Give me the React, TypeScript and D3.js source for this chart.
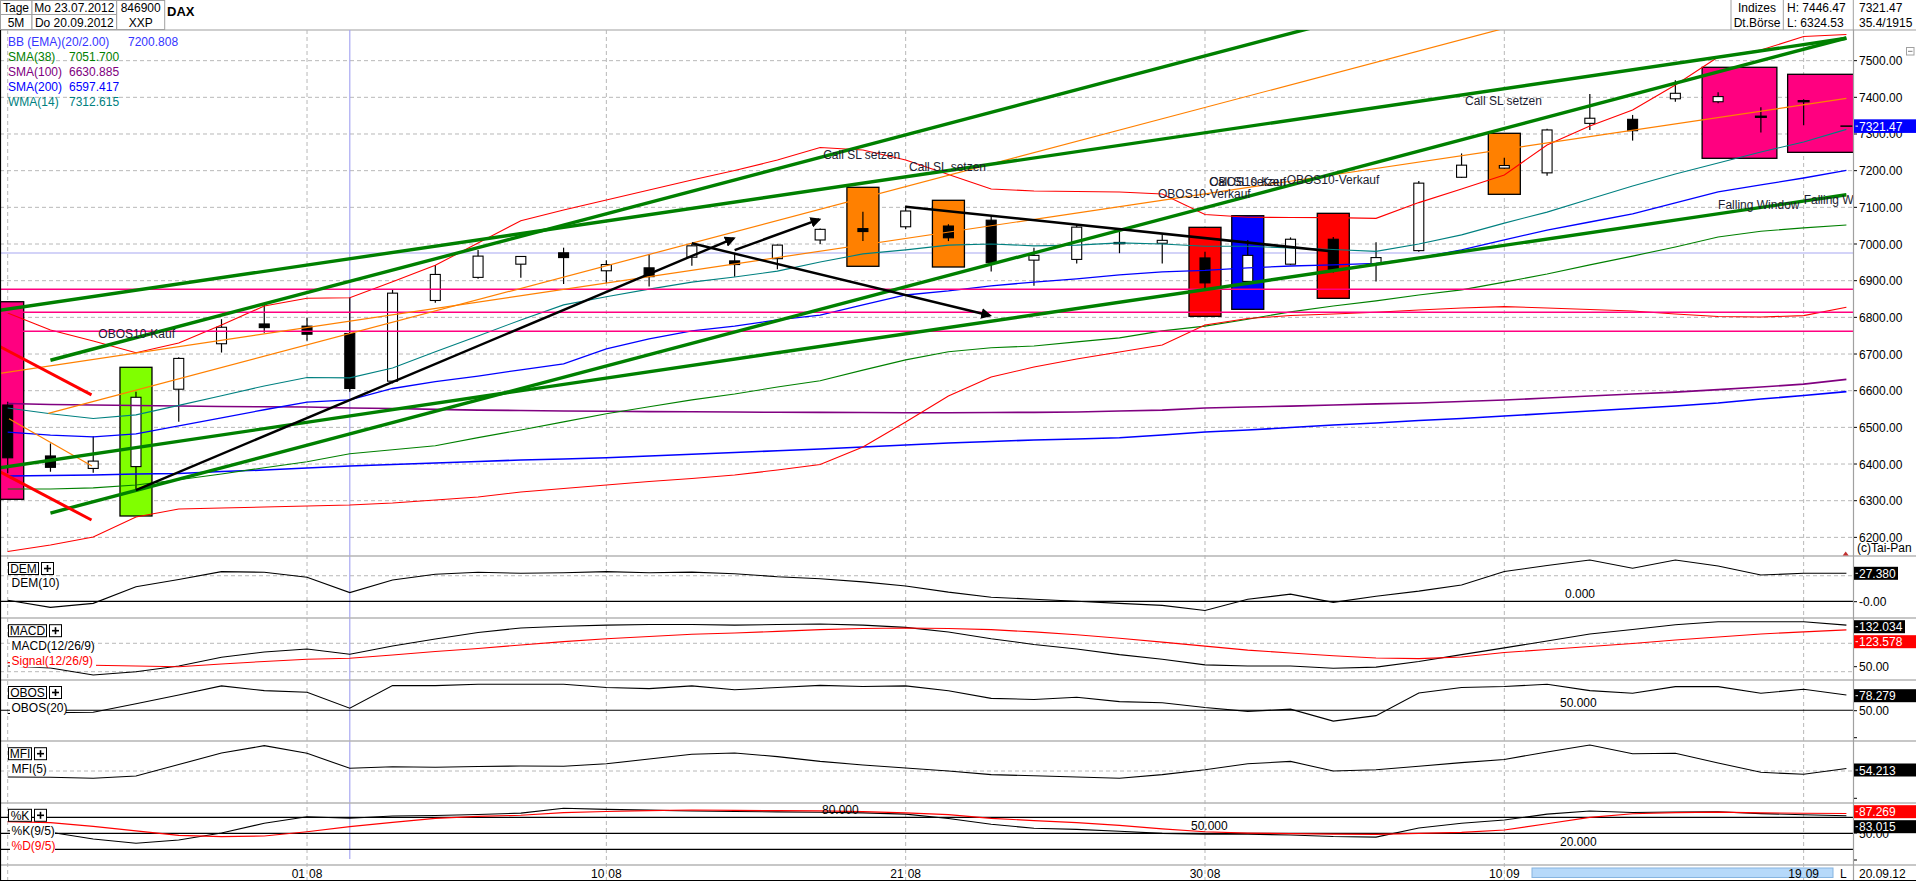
import React from "react";
import * as d3 from "d3";

// ---------------- data ----------------
const dates = ["23.07","24.07","25.07","26.07","27.07","30.07","31.07","01.08","02.08","03.08","06.08","07.08","08.08","09.08","10.08","13.08","14.08","15.08","16.08","17.08","20.08","21.08","22.08","23.08","24.08","27.08","28.08","29.08","30.08","31.08","03.09","04.09","05.09","06.09","07.09","10.09","11.09","12.09","13.09","14.09","17.09","18.09","19.09","20.09"];
const opens = [6561,6422,6388,6393,6604,6728,6782,6776,6756,6626,6846,6909,6945,6976,6927,6935,6964,6954,6960,7011,7042,7047,7049,7065,6956,6958,7003,7002,6962,6898,6945,7013,6945,6982,7182,7207,7194,7329,7340,7396,7388,7348,7390,7321.47];
const highs = [6570,6456,6476,6597,6691,6795,6836,6799,6854,6875,6943,6984,6966,6990,6956,6972,7002,6976,6999,7042,7088,7104,7054,7079,6990,7052,7038,7026,6979,7011,7018,7019,7005,7172,7247,7235,7314,7409,7352,7446.47,7414,7373,7395,7321.47];
const lows = [6375,6379,6376,6324.53,6515,6704,6758,6736,6597,6620,6840,6905,6908,6891,6893,6884,6941,6911,6931,7000,7008,7041,7008,6925,6886,6947,6975,6947,6876,6894,6943,6922,6898,6979,7180,7205,7186,7311,7282,7388,7384,7304,7324,7321.47];
const closes = [6417,6391,6408,6582,6688,6773,6772,6754,6606,6866,6917,6967,6966,6963,6944,6911,6995,6944,6997,7040,7034,7090,7017,6949,6969,7046,7002,7010,6894,6969,7013,6931,6963,7166,7215,7214,7311,7343,7309,7411,7402,7346,7389,7321.47];

const bbUpper = [6811.8,6765.5,6735.5,6703.6,6730,6779,6830.9,6851.9,6853.6,6897.2,6942,7002.7,7063.5,7092.7,7120,7147.3,7174.5,7200.4,7229,7263.2,7256.3,7229,7189.5,7150,7144.5,7143.2,7141.8,7136.4,7080.5,7072.8,7072.3,7072,7070,7112.9,7150,7188.2,7270,7321.8,7365.4,7433.6,7510,7529,7565.8,7571.3];
const bbMiddle = [6487,6479,6474,6482,6504,6526,6548,6569,6575,6606,6625,6640,6657,6673,6714,6741,6763,6776,6793,6806,6834,6861,6872,6886,6896,6905,6916,6924,6928,6935,6940,6943,6947,6962,6984,7011,7038,7060,7082,7112,7142,7161,7180,7200.8];
const bbLower = [6161.5,6179.2,6201,6255.5,6277.3,6280,6282.8,6285.5,6288.2,6293.7,6301.9,6310,6323.6,6333.3,6342.8,6352.3,6360.5,6370,6383.7,6398.7,6446.4,6514.6,6585.5,6637.3,6664.6,6686.4,6705.5,6724.6,6779,6796.8,6805,6809,6813.7,6820,6825.5,6829.3,6825.5,6821.4,6817.3,6809,6802.3,6800.9,6804.7,6827.7];
const sma38 = [6332,6332,6335,6343,6357,6373,6390,6406,6428,6439,6450,6472,6493,6515,6537,6556,6575,6591,6610,6627,6656,6684,6706,6717,6722,6733,6744,6763,6776,6795,6815,6831,6845,6861,6875,6896,6918,6943,6967,6992,7019,7035,7044,7051.7];
const sma100 = [6565,6562.3,6561,6559.6,6558.3,6557,6556,6555.5,6553,6551.4,6549,6547,6546,6544.6,6544,6543,6542.4,6542,6541,6541,6540.5,6540,6540,6540.5,6541,6542,6544.6,6547,6553,6555.5,6558,6561,6564,6566.4,6570.5,6574.6,6580,6585.5,6591,6596,6603,6610,6618,6630.9];
const sma200 = [6367.3,6368.7,6370,6372.8,6374,6379.6,6383.7,6389,6394.6,6398.7,6402.8,6406.9,6411,6413.7,6417,6421.9,6426.5,6431.4,6436.4,6441,6446.4,6451.9,6457.4,6461.4,6465.5,6468.2,6471.8,6479.1,6487.3,6492.8,6499.6,6506.4,6511.9,6518.7,6524.1,6531,6537.8,6544.6,6551.4,6558.2,6566.4,6577.3,6586.9,6597.4];
const wma14 = [6553,6537,6524,6534,6560,6586,6613,6636,6635,6662,6706,6749,6793,6834,6856,6877,6896,6910,6926,6951,6973,6984,6997,7000,6995,6997,7003,7000,6994,6994,6989,6985,6980,7000,7025,7057,7087,7123,7158,7191,7221,7251,7278,7312.6];

const dem10 = [1,-5.9,-2,14.2,21.4,29,28.4,23.5,8.5,20.8,26.4,28.4,27.4,28,29,28,28.5,27,24,22,19,15,9,4,2,0,-2,-4,-9,2,7,-1,5,10,16,29.1,35,40.4,32.3,40.4,34.5,25.7,27.4,27.38];
const macd = [60,56.5,44.2,50,60,75.4,84.7,90,80.6,95.2,107.6,119,127,130,132,133,133,132,133,134,132,128,120,108,98,90,80,72,62,60,60,56,58,68,80,92,104,116.4,124.3,132.6,138,138,138,132.03];
const macdSignal = [66,64,61.3,60,58.8,63.6,68,71.8,73.6,79.4,85.6,90.8,97,103,108,112,116,118,121,124,126,127,126,124,120,115,109,102,95,88,83,78,74,73,76,83.8,89,94.4,99.6,105.8,111,116.4,120,123.58];
const obos20 = [44,45.6,46.3,62,78.3,95,86.2,83.3,53.7,95.5,95.5,98,98,98,92,90,95,88,92,96,94,95,86,72,70,74,66,64,55,48,52,30,40,82,92,94,98,86.2,81.4,93.6,93.6,81.4,88.8,78.28];
const mfi5 = [40,39.5,37.8,41.7,60.8,80,92.2,79.5,54.5,57.2,56.2,57.5,58.3,58,62,70,78,80,74,66,60,55,50,44,42,40,38,44,52,62,66,50,52,58,64,69.2,81.7,93.3,78.7,79.5,63.3,47.8,44.5,54.21];
const stochK = [55,52,39.4,31.3,37.5,50.7,68.9,81.2,78.2,82.6,83.5,85.4,88,97,95,93.5,92,91,90.3,89.5,88.5,86,78,67,59.5,57.5,54,50,48.2,48.2,47,44,43,60,69,75,86,92,89,90,90.5,87,85,83.02];
const stochD = [72,70,63.2,54.7,46.3,43.7,45,53,62.5,70.7,78,82,84,89,91,92.5,93.8,93,92.7,92,90.6,88.5,85,78,74,70,65,58.5,53,50.6,49.4,48.6,48.2,50,52,56.3,68,80,86.8,89,90,88.5,87.7,87.27];

const priceTicks = [6200,6300,6400,6500,6600,6700,6800,6900,7000,7100,7200,7300,7400,7500];
const gridIndex = [0,7,14,21,28,35,42];

// drawn objects: [startIndex, startPrice, endIndex, endPrice]
const greenLines = [[1,6683,32,7635.7],[-0.2,6818.9,43,7561],[1,6266.4,43,7561.8],[-0.2,6389.7,43,7134.2]];
const redLines = [[-0.2,6721.3,1.96,6588.5],[-0.2,6380.3,1.96,6247.3]];
const orangeLines = [[-0.2,6647.1,43,7397],[0.95,6538.3,36,7619],[0.03,6523.6,1.97,6394.6]];
const arrowLines = [[3,6329,16.98,7015.5],[17,6983.6,18.98,7067],[16,7002,22.97,6805]];
const blackLines = [[21,7101.7,31,6979.5]];
const levelLines = [6876.5,6813.7,6761.9];
// boxes: [firstIndex, lastIndex, lowPrice, highPrice]
const pinkBoxes = [[0,0,6303.8,6842.6],[40,41,7233.7,7481.9],[42,43,7250,7462.8]];
const greenBoxes = [[3,3,6258.3,6663.8]];
const orangeBoxes = [[20,20,6939.2,7154.6],[22,22,6937.3,7119.2],[35,35,7135.5,7301.9]];
const redBoxes = [[28,28,6802.8,7045.5],[31,31,6851.9,7083.7]];
const blueBoxes = [[29,29,6821.9,7077.2]];
const annotations = [
  {text:"OBOS10-Kauf", i:2.12, p:6753.8},
  {text:"Call SL setzen", i:19.07, p:7242.7},
  {text:"Call SL setzen", i:21.08, p:7209.2},
  {text:"OBOS10-Verkauf", i:26.9, p:7135.5},
  {text:"OBOS10-Kauf", i:28.1, p:7169.9},
  {text:"Call SL setzen", i:28.1, p:7169.9},
  {text:"OBOS10-Verkauf", i:29.91, p:7174.5},
  {text:"Call SL setzen", i:34.08, p:7390.8},
  {text:"Falling Window", i:40, p:7106.4},
  {text:"Falling Window", i:42, p:7120},
];
const legendNames = ["BB (EMA)(20/2.00)","SMA(38)","SMA(100)","SMA(200)","WMA(14)"];
const legendValues = ["7200.808","7051.700","6630.885","6597.417","7312.615"];
const cursorIndex = 8;
const cursorPrice = 6975.5;

// ---------------- component ----------------
const FONT = "Liberation Sans, Arial, sans-serif";
const R = 1853;

export default function App() {
  const x = d3.scaleLinear().domain([0, 43]).range([7.7, 1846.4]);
  const yP = d3.scaleLinear().domain([6149.2, 7583.6]).range([556, 30]);
  const yDem = d3.scaleLinear().domain([-16.3, 44.3]).range([618, 556]);
  const yMacd = d3.scaleLinear().domain([35.4, 144.5]).range([680, 618]);
  const yObos = d3.scaleLinear().domain([0, 100]).range([737.3, 683.2]);
  const yMfi = d3.scaleLinear().domain([0, 100]).range([801, 741]);
  const yK = d3.scaleLinear().domain([0, 100]).range([860, 806.7]);

  const mk = (s: d3.ScaleLinear<number, number>) =>
    d3.line<number>().x((_, i) => x(i)).y((v) => s(v));
  const pl = mk(yP);

  const seg = (l: number[], k: string, color: string, w: number, arrow = false) => (
    <line key={k} x1={x(l[0])} y1={yP(l[1])} x2={x(l[2])} y2={yP(l[3])} stroke={color}
      strokeWidth={w} markerEnd={arrow ? "url(#ah)" : undefined} />
  );
  const box = (b: number[], k: string, fill: string) => {
    const x0 = x(b[0]) - 16, x1 = x(b[1]) + 16;
    return <rect key={k} x={x0} y={yP(b[3])} width={x1 - x0} height={yP(b[2]) - yP(b[3])}
      fill={fill} stroke="#000" strokeWidth={1.3} />;
  };
  const legendColors = ["#3535ff", "#008000", "#800080", "#0000ff", "#008080"];

  const panelTitle = (label: string, y: number, w: number) => (
    <g>
      <rect x={8.5} y={y} width={w} height={12} fill="#fff" stroke="#000" strokeWidth={1} />
      <text x={8.5 + w / 2} y={y + 6.5} textAnchor="middle" dominantBaseline="central">{label}</text>
      <rect x={8.5 + w + 3} y={y} width={12} height={12} fill="#fff" stroke="#000" strokeWidth={1} />
      <line x1={8.5 + w + 5.5} x2={8.5 + w + 12.5} y1={y + 6} y2={y + 6} stroke="#000" strokeWidth={1.6} />
      <line x1={8.5 + w + 9} x2={8.5 + w + 9} y1={y + 2.5} y2={y + 9.5} stroke="#000" strokeWidth={1.6} />
    </g>
  );
  const subLabel = (t: string, y: number, w: number, color = "#000") => (
    <g>
      <rect x={10} y={y - 6.5} width={w} height={13} fill="#fff" />
      <text x={11.5} y={y} dominantBaseline="central" fill={color}>{t}</text>
    </g>
  );
  const valueBox = (t: string, y: number, bg: string, w: number) => (
    <g>
      <rect x={1854} y={y - 6.5} width={w} height={13} fill={bg} />
      <line x1={1855.5} x2={1858} y1={y} y2={y} stroke="#fff" />
      <text x={1859} y={y + 0.5} dominantBaseline="central" fill="#fff">{t}</text>
    </g>
  );
  const plainVal = (t: string, y: number) => (
    <g>
      <line x1={1854} x2={1857} y1={y} y2={y} stroke="#000" />
      <text x={1859} y={y + 0.5} dominantBaseline="central" fill="#000">{t}</text>
    </g>
  );

  const headerCell = { stroke: "#a0a0a0", strokeWidth: 1, fill: "#fff" };

  return (
    <svg width={1916} height={881} style={{ position: "absolute", left: 0, top: 0, background: "#fff" }}
      fontFamily={FONT} fontSize={12}>
      <defs>
        <clipPath id="cMain"><rect x={0} y={30} width={R} height={526} /></clipPath>
        <clipPath id="cSub"><rect x={0} y={556} width={R} height={309} /></clipPath>
        <marker id="ah" viewBox="0 0 10 10" refX="8" refY="5" markerWidth="4.5" markerHeight="4.5" orient="auto">
          <path d="M0,0 L10,5 L0,10 z" fill="#000" />
        </marker>
      </defs>
      <rect x={0} y={0} width={1916} height={881} fill="#fff" />

      {/* header */}
      <rect x={0.5} y={0.5} width={31.5} height={14} {...headerCell} />
      <rect x={0.5} y={14.5} width={31.5} height={15} {...headerCell} />
      <rect x={32} y={0.5} width={84.7} height={14} {...headerCell} />
      <rect x={32} y={14.5} width={84.7} height={15} {...headerCell} />
      <rect x={116.7} y={0.5} width={48} height={29} {...headerCell} />
      <text x={16} y={8} textAnchor="middle" dominantBaseline="central">Tage</text>
      <text x={16} y={23} textAnchor="middle" dominantBaseline="central">5M</text>
      <text x={74.3} y={8} textAnchor="middle" dominantBaseline="central">Mo 23.07.2012</text>
      <text x={74.3} y={23} textAnchor="middle" dominantBaseline="central">Do 20.09.2012</text>
      <text x={140.7} y={8} textAnchor="middle" dominantBaseline="central">846900</text>
      <text x={140.7} y={23} textAnchor="middle" dominantBaseline="central">XXP</text>
      <text x={167} y={11} fontWeight="bold" fontSize={13} dominantBaseline="central">DAX</text>
      <line x1={1731} x2={1731} y1={0} y2={30} stroke="#a0a0a0" />
      <line x1={1783.3} x2={1783.3} y1={0} y2={30} stroke="#a0a0a0" />
      <line x1={1853.3} x2={1853.3} y1={0} y2={30} stroke="#a0a0a0" />
      <text x={1757} y={8} textAnchor="middle" dominantBaseline="central">Indizes</text>
      <text x={1757} y={23} textAnchor="middle" dominantBaseline="central">Dt.Börse</text>
      <text x={1787} y={8} dominantBaseline="central">H: 7446.47</text>
      <text x={1787} y={23} dominantBaseline="central">L: 6324.53</text>
      <text x={1859} y={8} dominantBaseline="central">7321.47</text>
      <text x={1859} y={23} dominantBaseline="central">35.4/1915</text>
      <line x1={0} x2={1916} y1={30} y2={30} stroke="#a0a0a0" strokeWidth={1.2} />

      {/* grids */}
      {priceTicks.map((p) => (
        <line key={"hg" + p} x1={0} x2={R} y1={yP(p)} y2={yP(p)} stroke="#b8b8b8" strokeDasharray="4,3" />
      ))}
      {gridIndex.map((i) => (
        <line key={"vg" + i} x1={x(i)} x2={x(i)} y1={30} y2={881} stroke="#b8b8b8" strokeDasharray="4,3" />
      ))}
      <line x1={0} x2={R} y1={yDem(25)} y2={yDem(25)} stroke="#b8b8b8" strokeDasharray="4,3" />
      <line x1={0} x2={R} y1={yMacd(100)} y2={yMacd(100)} stroke="#b8b8b8" strokeDasharray="4,3" />
      <line x1={0} x2={R} y1={yMacd(50)} y2={yMacd(50)} stroke="#b8b8b8" strokeDasharray="4,3" />
      <line x1={0} x2={R} y1={yMfi(50)} y2={yMfi(50)} stroke="#b8b8b8" strokeDasharray="4,3" />

      {/* cursor */}
      <line x1={x(cursorIndex)} x2={x(cursorIndex)} y1={30} y2={859} stroke="#a8a8f2" strokeWidth={1.2} />
      <line x1={0} x2={R} y1={yP(cursorPrice)} y2={yP(cursorPrice)} stroke="#a8a8f2" strokeWidth={1.2} />

      {/* main chart */}
      <g clipPath="url(#cMain)">
        {pinkBoxes.map((b, k) => box(b, "pb" + k, "#ff0080"))}
        {greenBoxes.map((b, k) => box(b, "gb" + k, "#80ff00"))}
        {orangeBoxes.map((b, k) => box(b, "ob" + k, "#ff8000"))}
        {redBoxes.map((b, k) => box(b, "rb" + k, "#ff0000"))}
        {blueBoxes.map((b, k) => box(b, "bb" + k, "#0000ff"))}

        {opens.map((o, i) => {
          const c = closes[i], h = highs[i], l = lows[i];
          const cx = x(i);
          if (h === l) {
            return <line key={"c" + i} x1={cx - 6} x2={cx + 6} y1={yP(c)} y2={yP(c)} stroke="#000" strokeWidth={1.5} />;
          }
          const yt = yP(Math.max(o, c)), yb = yP(Math.min(o, c));
          const bh = yb - yt;
          return (
            <g key={"c" + i}>
              <line x1={cx} x2={cx} y1={yP(h)} y2={yP(l)} stroke="#000" strokeWidth={1.2} />
              {bh < 2.5 ? (
                <line x1={cx - 6} x2={cx + 6} y1={(yt + yb) / 2} y2={(yt + yb) / 2} stroke="#000" strokeWidth={2.4} />
              ) : (
                <rect x={cx - 5} y={yt} width={10} height={bh} fill={c >= o ? "#fff" : "#000"} stroke="#000" strokeWidth={1.1} />
              )}
            </g>
          );
        })}

        <path d={pl(sma200) || ""} fill="none" stroke="#0000ff" strokeWidth={1.6} />
        <path d={pl(sma100) || ""} fill="none" stroke="#800080" strokeWidth={1.6} />
        <path d={pl(sma38) || ""} fill="none" stroke="#008000" strokeWidth={1.1} />
        <path d={pl(bbLower) || ""} fill="none" stroke="#ff0000" strokeWidth={1.1} />
        <path d={pl(bbUpper) || ""} fill="none" stroke="#ff0000" strokeWidth={1.1} />
        <path d={pl(bbMiddle) || ""} fill="none" stroke="#0000ff" strokeWidth={1.3} />
        <path d={pl(wma14) || ""} fill="none" stroke="#008080" strokeWidth={1.1} />

        {levelLines.map((p, k) => (
          <line key={"lv" + k} x1={0} x2={R} y1={yP(p)} y2={yP(p)} stroke="#ff0080" strokeWidth={1.5} />
        ))}
        {orangeLines.map((l, k) => seg(l, "or" + k, "#ff8000", 1.2))}
        {greenLines.map((l, k) => seg(l, "gr" + k, "#008000", 3.4))}
        {redLines.map((l, k) => seg(l, "rd" + k, "#ff0000", 3))}
        {blackLines.map((l, k) => seg(l, "bl" + k, "#000", 2.6))}
        {arrowLines.map((l, k) => seg(l, "ar" + k, "#000", 2.4, true))}

        {annotations.map((a, k) => (
          <text key={"an" + k} x={x(a.i)} y={yP(a.p)} dominantBaseline="central" fill="#1c1c30">{a.text}</text>
        ))}
      </g>

      {legendNames.map((n, k) => (
        <g key={"lg" + k}>
          <text x={8} y={42 + k * 15} dominantBaseline="central" fill={legendColors[k]}>{n}</text>
          <text x={k === 0 ? 128 : 69} y={42 + k * 15} dominantBaseline="central" fill={legendColors[k]}>{legendValues[k]}</text>
        </g>
      ))}

      {/* sub panels */}
      <g clipPath="url(#cSub)">
        <line x1={0} x2={R} y1={yDem(0)} y2={yDem(0)} stroke="#000" strokeWidth={1.2} />
        <path d={mk(yDem)(dem10) || ""} fill="none" stroke="#000" strokeWidth={1.1} />
        <path d={mk(yMacd)(macd) || ""} fill="none" stroke="#000" strokeWidth={1.1} />
        <path d={mk(yMacd)(macdSignal) || ""} fill="none" stroke="#ff0000" strokeWidth={1.1} />
        <line x1={0} x2={R} y1={yObos(50)} y2={yObos(50)} stroke="#000" strokeWidth={1.2} />
        <path d={mk(yObos)(obos20) || ""} fill="none" stroke="#000" strokeWidth={1.1} />
        <path d={mk(yMfi)(mfi5) || ""} fill="none" stroke="#000" strokeWidth={1.1} />
        {[80, 50, 20].map((v) => (
          <line key={"kl" + v} x1={0} x2={R} y1={yK(v)} y2={yK(v)} stroke="#000" strokeWidth={1.2} />
        ))}
        <path d={mk(yK)(stochK) || ""} fill="none" stroke="#000" strokeWidth={1.1} />
        <path d={mk(yK)(stochD) || ""} fill="none" stroke="#ff0000" strokeWidth={1.2} />
      </g>
      <text x={1565} y={594} dominantBaseline="central">0.000</text>
      <text x={1560} y={703.3} dominantBaseline="central">50.000</text>
      <text x={822} y={809.5} dominantBaseline="central">80.000</text>
      <text x={1191} y={825.5} dominantBaseline="central">50.000</text>
      <text x={1560} y={842} dominantBaseline="central">20.000</text>

      {/* panel separators */}
      {[556, 618, 680, 741, 803, 865].map((y) => (
        <line key={"sep" + y} x1={0} x2={1916} y1={y} y2={y} stroke="#b4b4b4" strokeWidth={1.5} />
      ))}

      {panelTitle("DEM", 562.5, 30)}
      {subLabel("DEM(10)", 583.3, 46)}
      {panelTitle("MACD", 624.7, 38)}
      {subLabel("MACD(12/26/9)", 645.7, 84)}
      {subLabel("Signal(12/26/9)", 660.7, 86, "#ff0000")}
      {panelTitle("OBOS", 686.5, 38)}
      {subLabel("OBOS(20)", 707.7, 56)}
      {panelTitle("MFI", 747.7, 23)}
      {subLabel("MFI(5)", 769, 34)}
      {panelTitle("%K", 809.3, 23)}
      {subLabel("%K(9/5)", 831, 45)}
      {subLabel("%D(9/5)", 846, 45, "#ff0000")}

      {/* frame */}
      <line x1={0.5} x2={0.5} y1={30} y2={881} stroke="#000" strokeWidth={1.2} />
      <line x1={R + 0.5} x2={R + 0.5} y1={30} y2={881} stroke="#a0a0a0" strokeWidth={1.2} />
      <line x1={0} x2={1916} y1={880.5} y2={880.5} stroke="#000" strokeWidth={1.2} />

      {/* right price axis */}
      {priceTicks.map((p) => (
        <g key={"pt" + p}>
          <line x1={1854} x2={1857} y1={yP(p)} y2={yP(p)} stroke="#000" />
          <text x={1859} y={yP(p) + 0.5} dominantBaseline="central">{p.toFixed(2)}</text>
        </g>
      ))}
      <rect x={1854} y={yP(closes[43]) - 6.8} width={62} height={13.6} fill="#0000ff" />
      <line x1={1855.5} x2={1858} y1={yP(closes[43])} y2={yP(closes[43])} stroke="#fff" />
      <text x={1859} y={yP(closes[43]) + 0.5} dominantBaseline="central" fill="#fff">{closes[43].toFixed(2)}</text>
      <rect x={1906.5} y={47.5} width={7.5} height={7.5} fill="#fff" stroke="#a0a0a0" />
      <line x1={1908} x2={1912.5} y1={51.3} y2={51.3} stroke="#808080" />
      <text x={1857} y={548} dominantBaseline="central">(c)Tai-Pan</text>
      <path d="M1842.7,555.5 L1848.7,555.5 L1845.7,551.5 Z" fill="#c03030" />

      {valueBox("27.380", 573.3, "#000", 44)}
      {plainVal("-0.00", 601.7)}
      {valueBox("132.034", 626.7, "#000", 51)}
      {valueBox("123.578", 641.7, "#ff0000", 62)}
      {plainVal("50.00", 666.7)}
      {valueBox("78.279", 695.7, "#000", 62)}
      {plainVal("50.00", 710.7)}
      <line x1={1854} x2={1857} y1={737.7} y2={737.7} stroke="#000" />
      {valueBox("54.213", 770, "#000", 62)}
      <line x1={1854} x2={1857} y1={798.3} y2={798.3} stroke="#000" />
      {plainVal("50.00", 833)}
      {valueBox("87.269", 811.7, "#ff0000", 62)}
      {valueBox("83.015", 826.7, "#000", 62)}
      <line x1={1854} x2={1857} y1={860} y2={860} stroke="#000" />

      {/* time axis */}
      <rect x={1532} y={868} width={301} height={9.5} fill="#b6d9fa" stroke="#86b4e0" strokeWidth={1} />
      {gridIndex.filter((i) => i > 0).map((i) => {
        const [d, m] = dates[i].split(".");
        return (
          <g key={"dt" + i}>
            <text x={x(i) - 2} y={873.5} textAnchor="end" dominantBaseline="central">{d}</text>
            <text x={x(i) + 2} y={873.5} dominantBaseline="central">{m}</text>
          </g>
        );
      })}
      <text x={1840} y={873.5} dominantBaseline="central">L</text>
      <text x={1859} y={873.5} dominantBaseline="central">20.09.12</text>
    </svg>
  );
}
